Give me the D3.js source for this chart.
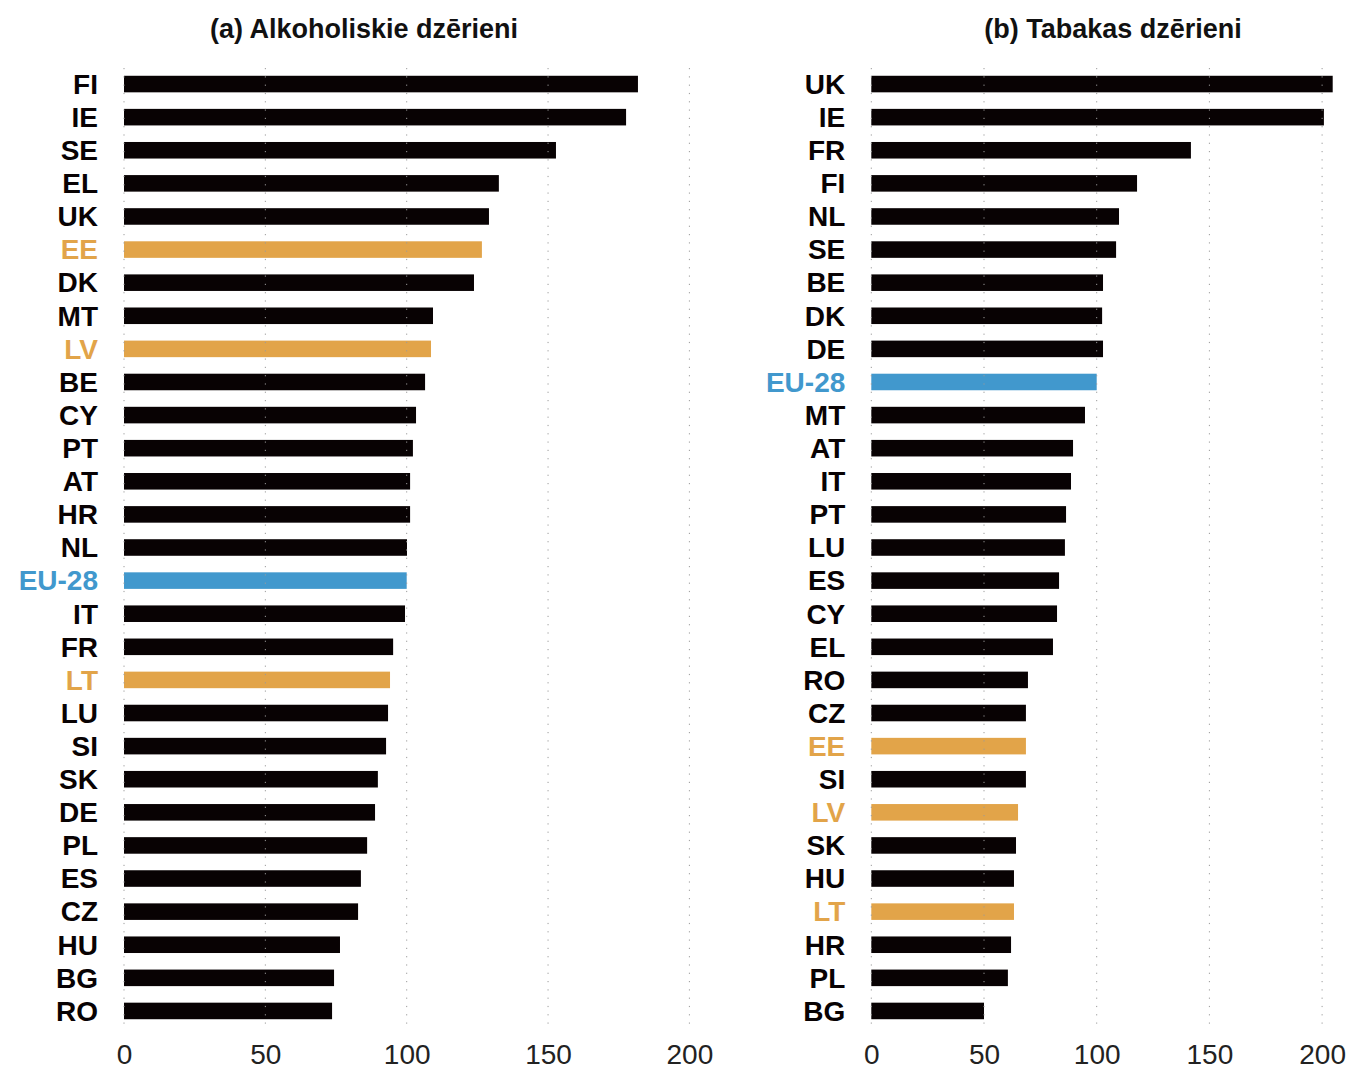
<!DOCTYPE html>
<html>
<head>
<meta charset="utf-8">
<script src="https://cdn.jsdelivr.net/npm/d3@7"></script>
<style>
  body { margin: 0; background: #fff; }
  text { font-family: "Liberation Sans", Arial, sans-serif; }
</style>
</head>
<body>
<svg width="1350" height="1071"></svg>
<script>
// (a) alcohol
const alcoCountries = ["FI","IE","SE","EL","UK","EE","DK","MT","LV","BE","CY","PT","AT","HR","NL",
    "EU-28","IT","FR","LT","LU","SI","SK","DE","PL","ES","CZ","HU","BG","RO"];
const alcoValues = [181.8,177.6,152.8,132.6,129.1,126.6,123.8,109.3,108.6,106.5,103.3,102.2,101.2,101.2,100.1,
    100,99.4,95.2,94.1,93.4,92.7,89.8,88.8,86.0,83.8,82.8,76.4,74.3,73.6];

// (b) tobacco
const tobCountries = ["UK","IE","FR","FI","NL","SE","BE","DK","DE","EU-28","MT","AT","IT","PT","LU",
    "ES","CY","EL","RO","CZ","EE","SI","LV","SK","HU","LT","HR","PL","BG"];
const tobValues = [204.7,200.8,141.8,117.9,109.9,108.6,102.8,102.4,102.8,100,94.8,89.5,88.6,86.4,85.9,
    83.3,82.4,80.6,69.5,68.6,68.6,68.6,65.1,64.2,63.3,63.3,62.0,60.6,50.0];

const xTicks = [0, 50, 100, 150, 200];
const balticCountries = ["EE", "LV", "LT"];
const euLabel = "EU-28";

const titles = ["(a) Alkoholiskie dzērieni", "(b) Tabakas dzērieni"];

const svg = d3.select("svg");

function colorOf(c) {
    if (c === euLabel) return "#4198cd";
    if (balticCountries.indexOf(c) >= 0) return "#e2a449";
    return "#080203";
}

function drawPanel(countries, values, x0, x1, titleX, title) {
    const data = countries.map(function (c, i) { return {name: c, value: values[i]}; });

    const x = d3.scaleLinear().domain([0, 200]).range([x0, x1]);
    const y = d3.scaleBand()
        .domain(countries)
        .range([67.5, 1027.5])
        .paddingInner(0.5)
        .paddingOuter(0.25);

    const g = svg.append("g");

    g.append("text")
        .attr("x", titleX)
        .attr("y", 38)
        .attr("text-anchor", "middle")
        .attr("font-size", 27)
        .attr("font-weight", "bold")
        .attr("fill", "#111")
        .text(title);

    g.append("g").selectAll("rect")
        .data(data)
        .enter().append("rect")
        .attr("x", x(0))
        .attr("y", function (d) { return y(d.name); })
        .attr("width", function (d) { return x(d.value) - x(0); })
        .attr("height", y.bandwidth())
        .attr("fill", function (d) { return colorOf(d.name); });

    // dotted grid, drawn over the bars
    g.append("g").selectAll("line")
        .data(xTicks)
        .enter().append("line")
        .attr("x1", function (d) { return x(d); })
        .attr("x2", function (d) { return x(d); })
        .attr("y1", 68)
        .attr("y2", 1030)
        .attr("stroke", "#9a9a9a")
        .attr("stroke-width", 1)
        .attr("stroke-dasharray", "1.2,7.1");

    const yAxis = g.append("g")
        .attr("transform", "translate(" + (x0 - 26) + ",0)")
        .call(d3.axisLeft(y).tickSize(0).tickPadding(0));
    yAxis.select(".domain").remove();
    yAxis.selectAll("text")
        .attr("dy", "0.35em")
        .attr("font-size", 28)
        .attr("font-weight", "bold")
        .attr("font-family", "Liberation Sans, Arial, sans-serif")
        .attr("fill", function (d) { return colorOf(d); });

    const xAxis = g.append("g")
        .attr("transform", "translate(0,1036)")
        .call(d3.axisBottom(x).tickValues(xTicks).tickSize(0).tickPadding(8));
    xAxis.select(".domain").remove();
    xAxis.selectAll("text")
        .attr("font-size", 28)
        .attr("font-family", "Liberation Sans, Arial, sans-serif")
        .attr("fill", "#222");
}

drawPanel(alcoCountries, alcoValues, 124, 689.4, 364, titles[0]);
drawPanel(tobCountries, tobValues, 871.3, 1322.1, 1113, titles[1]);
</script>
</body>
</html>
